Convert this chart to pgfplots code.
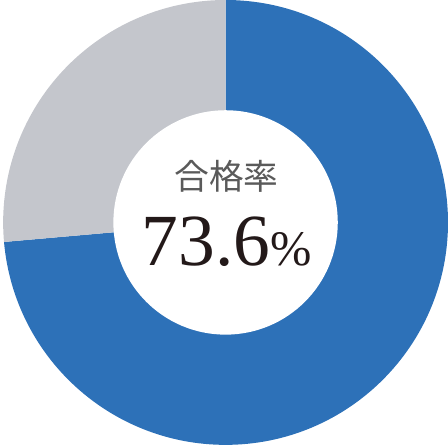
\documentclass[border=0pt]{standalone}
\usepackage{pgfplots}
\pgfplotsset{compat=1.18}
\usepackage{fontspec}
\newfontfamily\cjk{Noto Sans CJK JP}
\newfontfamily\numfont{Liberation Serif}
\definecolor{passblue}{RGB}{45,113,184}
\definecolor{failgray}{RGB}{196,198,204}
\definecolor{labelgray}{RGB}{90,90,90}
\definecolor{numblack}{RGB}{35,25,25}

% pass rate (percent) and the rest
\newcommand\passrate{73.6}
\newcommand\failrate{26.4}

\begin{document}
\begin{tikzpicture}
\begin{axis}[
    x=1pt, y=1pt,
    xmin=-224, xmax=224,
    ymin=-224, ymax=224,
    hide axis,
    scale only axis,
    clip=false,
]
% blue share, clockwise from 12 o'clock
\fill[passblue] (axis cs:0,0) -- (axis cs:0,224)
    arc[start angle=90, end angle={90-3.6*\passrate}, radius=224pt] -- cycle;
% gray share, counter-clockwise from 12 o'clock
\fill[failgray] (axis cs:0,0) -- (axis cs:0,224)
    arc[start angle=90, end angle={90+3.6*\failrate}, radius=224pt] -- cycle;
% hole
\fill[white] (axis cs:0,0) circle[radius=113pt];
\node[text=labelgray, inner sep=0pt, anchor=center]
    at (axis cs:1,46) {\fontsize{35}{40}\selectfont\cjk 合格率};
\node[text=numblack, inner sep=0pt, anchor=base]
    at (axis cs:1,-43) {\fontsize{74}{80}\selectfont\numfont 73.6{\fontsize{50}{50}\selectfont\%}};
\end{axis}
\end{tikzpicture}
\end{document}
